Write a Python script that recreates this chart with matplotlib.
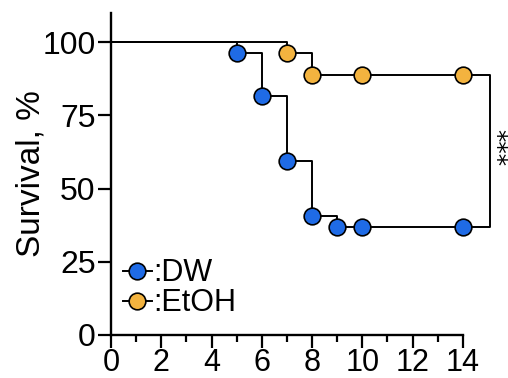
import matplotlib
matplotlib.use('Agg')
import matplotlib.pyplot as plt
import matplotlib.transforms as mtransforms
from matplotlib.lines import Line2D

plt.rcParams['font.family'] = ['Liberation Sans', 'DejaVu Sans']

# ── data (Kaplan-Meier steps) ────────────────────────────────
days_dw = [0, 5, 6, 7, 8, 9, 10, 14]
surv_dw = [100, 96.3, 81.5, 59.3, 40.7, 37.0, 37.0, 37.0]
days_etoh = [0, 7, 8, 10, 14]
surv_etoh = [100, 96.3, 88.9, 88.9, 88.9]

x_ticks = [0, 2, 4, 6, 8, 10, 12, 14]
y_ticks = [0, 25, 50, 75, 100]

c_dw = '#1F6BE6'
c_etoh = '#F3B33F'
lw = 1.4

fig = plt.figure(figsize=(5.08, 3.78), dpi=100)
ax = fig.add_axes([0.2185, 0.1138, 0.6925, 0.852])

for days, surv, col in [(days_dw, surv_dw, c_dw), (days_etoh, surv_etoh, c_etoh)]:
    ax.step(days, surv, where='post', color='black', lw=lw, zorder=2, clip_on=False)
    ax.plot(days[1:], surv[1:], 'o', ms=12, mfc=col, mec='black', mew=1.2,
            zorder=3, clip_on=False)

# significance bracket
ax.plot([14, 15.07, 15.07, 14], [surv_etoh[-1], surv_etoh[-1], surv_dw[-1], surv_dw[-1]],
        color='black', lw=lw, zorder=1, clip_on=False)
trans = mtransforms.blended_transform_factory(fig.transFigure, ax.transData)
fig.text(0.999, 64, '***', transform=trans, rotation=270, ha='right', va='center',
         fontsize=18, family='DejaVu Sans')

ax.set_xlim(0, 14)
ax.set_ylim(0, 110)
ax.set_xticks(x_ticks)
ax.set_xticks(range(1, 14, 2), minor=True)
ax.set_yticks(y_ticks)
ax.tick_params(axis='both', which='major', labelsize=23, length=9.5, width=1.6, pad=1.5)
ax.tick_params(axis='x', which='major', labelsize=22, pad=0)
ax.tick_params(axis='x', which='minor', length=5, width=1.6)
ax.spines['top'].set_visible(False)
ax.spines['right'].set_visible(False)
ax.spines['left'].set_linewidth(1.7)
ax.spines['bottom'].set_linewidth(1.7)
ax.set_ylabel('Survival, %', fontsize=24, labelpad=-3)

handles = [
    Line2D([0], [0], color='black', lw=lw, marker='o', ms=12, mfc=c_dw, mec='black', mew=1.2),
    Line2D([0], [0], color='black', lw=lw, marker='o', ms=12, mfc=c_etoh, mec='black', mew=1.2),
]
ax.legend(handles, [':DW', ':EtOH'], loc='lower left', bbox_to_anchor=(0.034, 0.052),
          frameon=False, fontsize=22, handlelength=0.95, handletextpad=0.05,
          labelspacing=0.0, borderaxespad=0.0, borderpad=0.0)

plt.savefig('out.png', dpi=100)
plt.close()
